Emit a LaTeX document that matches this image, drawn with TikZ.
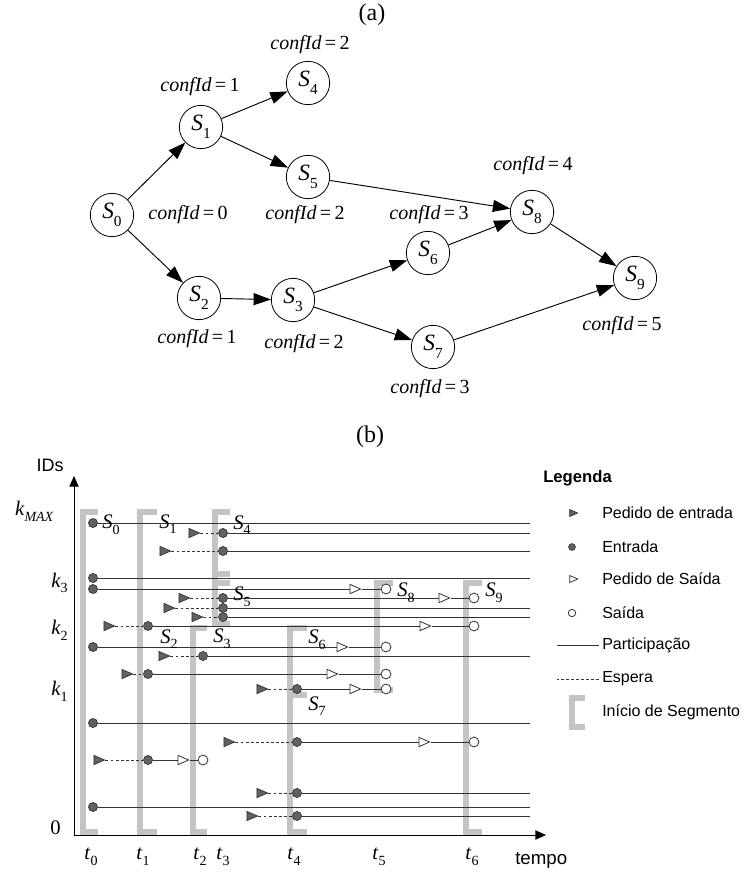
\documentclass[tikz,border=0pt]{standalone}
\usepackage{fontspec}
\setmainfont{Liberation Serif}
\setsansfont{Liberation Sans}
\usetikzlibrary{arrows.meta,shapes.geometric}

\newcommand{\bigsub}[1]{\raisebox{-0.7ex}{\fontsize{11.5}{11.5}\selectfont #1}}
\newcommand{\smsub}[1]{\raisebox{-0.6ex}{\fontsize{10.5}{10.5}\selectfont #1}}
\newcommand{\confid}[1]{\textit{confId}\,=\,#1}

\begin{document}
\begin{tikzpicture}[x=0.75pt,y=-0.75pt,
    state/.style={draw,circle,minimum size=32.5pt,inner sep=0pt,line width=0.6pt,font=\fontsize{17.5}{17.5}\selectfont},
    conf/.style={font=\fontsize{15}{15}\selectfont},
    edge/.style={-{Triangle[length=13pt,width=9pt]},line width=0.7pt},
    caption/.style={font=\fontsize{18}{18}\selectfont},
    axis/.style={-{Triangle[length=8pt,width=7pt]},line width=0.7pt},
    seg/.style={draw=black!23,line width=4pt},
    part/.style={draw=black!80,line width=0.6pt},
    wait/.style={draw=black!80,line width=0.6pt,dash pattern=on 2.2pt off 1.6pt},
    entry/.style={circle,draw=black!80,fill=black!62,inner sep=0pt,minimum size=6.8pt,line width=0.5pt},
    exitc/.style={circle,draw=black!80,fill=white,inner sep=0pt,minimum size=7.4pt,line width=0.6pt},
    askin/.style={isosceles triangle,isosceles triangle stretches,draw=black!80,fill=black!62,inner sep=0pt,minimum width=7pt,minimum height=8pt,line width=0.5pt},
    askout/.style={isosceles triangle,isosceles triangle stretches,draw=black!80,fill=white,inner sep=0pt,minimum width=7pt,minimum height=8pt,line width=0.6pt},
    slab/.style={anchor=west,inner sep=0pt,font=\fontsize{15.5}{15.5}\selectfont},
    klab/.style={anchor=east,inner sep=0pt,font=\fontsize{15.5}{15.5}\selectfont},
    tlab/.style={inner sep=0pt,font=\fontsize{15.5}{15.5}\selectfont},
    sans/.style={anchor=west,inner sep=0pt,font=\sffamily\fontsize{12}{13}\selectfont}
  ]
  \useasboundingbox (0,0) rectangle (748,872);

  % (a) configuration graph
  \node[caption] (capa) at (372,15) {(a)};
  \node[state] (s0) at (112,215) {\textit{S}\bigsub{0}};
  \node[state] (s1) at (201,127) {\textit{S}\bigsub{1}};
  \node[state] (s2) at (199,298) {\textit{S}\bigsub{2}};
  \node[state] (s3) at (293,300) {\textit{S}\bigsub{3}};
  \node[state] (s4) at (308,83) {\textit{S}\bigsub{4}};
  \node[state] (s5) at (308,177) {\textit{S}\bigsub{5}};
  \node[state] (s6) at (428,253) {\textit{S}\bigsub{6}};
  \node[state] (s7) at (433,347) {\textit{S}\bigsub{7}};
  \node[state] (s8) at (532,212) {\textit{S}\bigsub{8}};
  \node[state] (s9) at (635,278) {\textit{S}\bigsub{9}};

  \node[conf] (c0) at (188,215) {\confid{0}};
  \node[conf] (c1) at (200,87) {\confid{1}};
  \node[conf] (c2) at (197,339) {\confid{1}};
  \node[conf] (c3) at (304,344) {\confid{2}};
  \node[conf] (c4) at (310,45) {\confid{2}};
  \node[conf] (c5) at (305,215) {\confid{2}};
  \node[conf] (c6) at (429,215) {\confid{3}};
  \node[conf] (c7) at (430,389) {\confid{3}};
  \node[conf] (c8) at (533,166) {\confid{4}};
  \node[conf] (c9) at (622,326) {\confid{5}};

  \draw[edge] (s0) -- (s1);
  \draw[edge] (s0) -- (s2);
  \draw[edge] (s1) -- (s4);
  \draw[edge] (s1) -- (s5);
  \draw[edge] (s2) -- (s3);
  \draw[edge] (s3) -- (s6);
  \draw[edge] (s3) -- (s7);
  \draw[edge] (s5) -- (s8);
  \draw[edge] (s6) -- (s8);
  \draw[edge] (s7) -- (s9);
  \draw[edge] (s8) -- (s9);

  % (b) timeline of IDs
  \node[caption] (capb) at (370,437) {(b)};
  \coordinate (orig) at (74,835);
  \coordinate (ytip) at (74,476);
  \coordinate (xtip) at (546,835);
  \coordinate (rend) at (530,0);

  % segment starts
  \draw[seg] (98,512) -| (83,832) -- (98,832);
  \draw[seg] (157,512) -| (140,832) -- (157,832);
  \draw[seg] (230,512) -| (215,624) -- (230,624);
  \draw[seg] (215,574) -- (230,574) (215,583) -- (230,583);
  \draw[seg] (207,628) -| (193,832) -- (207,832);
  \draw[seg] (307,628) -| (290,832) -- (307,832);
  \draw[seg] (290,695) -- (307,695);
  \draw[seg] (393,583) -| (377,690) -- (393,690);
  \draw[seg] (482,583) -| (466,832) -- (482,832);

  \draw[axis] (orig) -- (ytip);
  \draw[axis] (orig) -- (xtip);

  % members present from the start
  \foreach \y/\xd in {523/93,578/93,723/93,807/93} {
    \node[entry] (dot\y) at (\xd,\y) {};
    \draw[part] (dot\y) -- (dot\y -| rend);
  }
  % join and stay
  \foreach \y/\xr/\xd in {533/192/223,551/163/223,608/167/223,617/195/223,656/162/203,793/260/297,816/250/297} {
    \node[askin] (req\y) at (\xr,\y) {};
    \node[entry] (dot\y) at (\xd,\y) {};
    \draw[wait] (req\y) -- (dot\y);
    \draw[part] (dot\y) -- (dot\y -| rend);
  }
  % present from the start, then leave
  \foreach \y/\xo/\xs in {589/353/386,647/340/386} {
    \node[entry] (dot\y) at (93,\y) {};
    \node[askout] (out\y) at (\xo,\y) {};
    \node[exitc] (exit\y) at (\xs,\y) {};
    \draw[part] (dot\y) -- (out\y) -- (exit\y);
  }
  % join, then leave
  \foreach \y/\xr/\xd/\xo/\xs in {598/182/223/442/474,626/107/148/423/474,674/125/148/330/386,689/260/297/353/386,742/227/297/422/474,760/97/148/181/203} {
    \node[askin] (req\y) at (\xr,\y) {};
    \node[entry] (dot\y) at (\xd,\y) {};
    \node[askout] (out\y) at (\xo,\y) {};
    \node[exitc] (exit\y) at (\xs,\y) {};
    \draw[wait] (req\y) -- (dot\y);
    \draw[part] (dot\y) -- (out\y) -- (exit\y);
  }

  \node[slab] (l0) at (102,525) {\textit{S}\smsub{0}};
  \node[slab] (l1) at (159,524) {\textit{S}\smsub{1}};
  \node[slab] (l4) at (233,525) {\textit{S}\smsub{4}};
  \node[slab] (l5) at (233,597) {\textit{S}\smsub{5}};
  \node[slab] (l2) at (160,639) {\textit{S}\smsub{2}};
  \node[slab] (l3) at (213,639) {\textit{S}\smsub{3}};
  \node[slab] (l6) at (308,640) {\textit{S}\smsub{6}};
  \node[slab] (l7) at (308,706) {\textit{S}\smsub{7}};
  \node[slab] (l8) at (397,593) {\textit{S}\smsub{8}};
  \node[slab] (l9) at (485,593) {\textit{S}\smsub{9}};

  \node[sans,anchor=center,font=\sffamily\fontsize{13.5}{14}\selectfont] (ids) at (50,465) {IDs};
  \node[klab] (kmax) at (54,511) {\textit{k}\smsub{\textit{MAX}}};
  \node[klab] (k3) at (68,583) {\textit{k}\smsub{3}};
  \node[klab] (k2) at (68,630) {\textit{k}\smsub{2}};
  \node[klab] (k1) at (68,691) {\textit{k}\smsub{1}};
  \node[klab] (kzero) at (61,828) {0};
  \foreach \x/\t in {91/0,143/1,200/2,223/3,294/4,379/5,472/6}
    \node[tlab] (t\t) at (\x,857) {\textit{t}\smsub{\t}};
  \node[sans,font=\sffamily\fontsize{14}{14}\selectfont] (tempo) at (515,860) {tempo};

  % legend
  \node[sans,font=\sffamily\bfseries\fontsize{12.5}{13}\selectfont] (leg) at (543,478) {Legenda};
  \node[sans] (lask) at (602,513) {Pedido de entrada};
  \node[sans] (lent) at (602,547) {Entrada};
  \node[sans] (lout) at (602,579) {Pedido de Saída};
  \node[sans] (lexit) at (602,613) {Saída};
  \node[sans] (lpart) at (602,645) {Participação};
  \node[sans] (lwait) at (602,679) {Espera};
  \node[sans] (lseg) at (602,712) {Início de Segmento};
  \node[askin,scale=0.75] (kask) at (572,513) {};
  \node[entry,scale=0.75] (kent) at (572,547) {};
  \node[askout,scale=0.75] (kout) at (572,579) {};
  \node[exitc,scale=0.75] (kexit) at (572,613) {};
  \draw[part] ([xshift=-2pt]lpart.west) -- ++(-42,0);
  \draw[wait] ([xshift=-2pt]lwait.west) -- ++(-42,0);
  \draw[seg] (585,698) -| (572,727) -- (585,727);
\end{tikzpicture}
\end{document}
